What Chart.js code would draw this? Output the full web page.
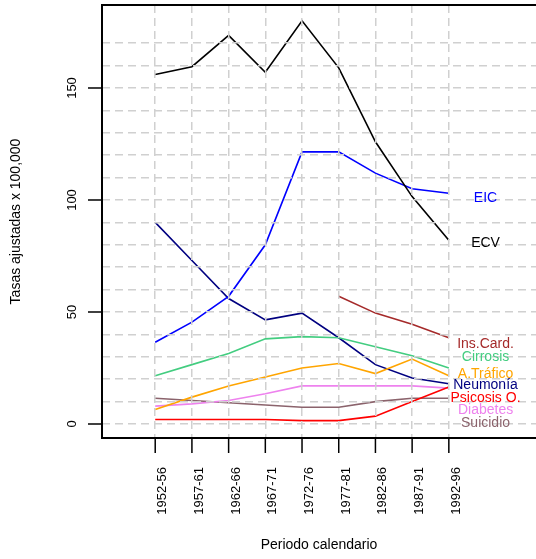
<!DOCTYPE html>
<html>
<head>
<meta charset="utf-8">
<script src="https://cdn.jsdelivr.net/npm/chart.js@4"></script>
<style>
  html, body { margin: 0; padding: 0; background: #fff; }
  #wrap { width: 536px; height: 559px; position: relative; }
</style>
</head>
<body>
<div id="wrap"><canvas id="chart"></canvas></div>
<script>
const periods = ["1952-56", "1957-61", "1962-66", "1967-71", "1972-76", "1977-81", "1982-86", "1987-91", "1992-96"];
const yTicks = [0, 50, 100, 150];

const ecv = [156, 159.5, 173.5, 157, 180, 159, 126, 101.5, 82];
const eic = [36.5, 45.5, 57, 80, 121.5, 121.5, 112, 105, 103];
const insCard = [null, null, null, null, null, 57, 49.5, 44.5, 38.5];
const cirrosis = [21.5, 26.5, 31.5, 38, 39, 38.5, 34.5, 30.5, 25];
const trafico = [6.5, 12, 17, 21, 25, 27, 22.5, 29, 21.5];
const neumonia = [90, 73, 56, 46.5, 49.5, 38.5, 26.5, 20.5, 18];
const psicosis = [2, 2, 2, 2, 1.5, 1.5, 3.5, 10, 16.5];
const diabetes = [8, 9, 10.5, 13.5, 17, 17, 17, 17, 16];
const suicidio = [11.5, 10.5, 9.5, 8.5, 7.5, 7.5, 10, 11.5, 11.5];

const series = [
  { name: "ECV", data: ecv, color: "#000000" },
  { name: "EIC", data: eic, color: "#0000FF" },
  { name: "Ins.Card.", data: insCard, color: "#A52A2A" },
  { name: "Cirrosis", data: cirrosis, color: "#43CD80" },
  { name: "A.Tráfico", data: trafico, color: "#FFA500" },
  { name: "Neumonía", data: neumonia, color: "#000080" },
  { name: "Psicosis O.", data: psicosis, color: "#FF0000" },
  { name: "Diabetes", data: diabetes, color: "#EE82EE" },
  { name: "Suicidio", data: suicidio, color: "#8B636C" },
];

// where the series names are written (data units)
const labelX = 10;
const labelY = { "EIC": 101, "ECV": 80.7, "Ins.Card.": 35.6, "Cirrosis": 30, "A.Tráfico": 22.2,
  "Neumonía": 17.4, "Psicosis O.": 11.6, "Diabetes": 6, "Suicidio": 0.4 };

const FONT = "13px 'Liberation Sans', Arial, sans-serif";
const BIG = "14px 'Liberation Sans', Arial, sans-serif";

const decor = {
  id: "decor",
  afterDraw(chart) {
    const { ctx, chartArea: a, scales: { x, y } } = chart;
    ctx.save();
    // box (left, top, bottom)
    ctx.strokeStyle = "#000";
    ctx.lineWidth = 2;
    ctx.beginPath();
    ctx.moveTo(chart.width, a.top);
    ctx.lineTo(a.left, a.top);
    ctx.lineTo(a.left, a.bottom);
    ctx.lineTo(chart.width, a.bottom);
    ctx.stroke();

    ctx.lineWidth = 1.5;
    ctx.font = FONT;
    ctx.fillStyle = "#000";
    // y ticks
    yTicks.forEach((v) => {
      const py = y.getPixelForValue(v);
      ctx.beginPath();
      ctx.moveTo(a.left - 14, py);
      ctx.lineTo(a.left, py);
      ctx.stroke();
      ctx.save();
      ctx.translate(76, py);
      ctx.rotate(-Math.PI / 2);
      ctx.textAlign = "center";
      ctx.textBaseline = "alphabetic";
      ctx.fillText(String(v), 0, 0);
      ctx.restore();
    });
    // x ticks
    periods.forEach((p, i) => {
      const px = x.getPixelForValue(i + 1);
      ctx.beginPath();
      ctx.moveTo(px, a.bottom);
      ctx.lineTo(px, a.bottom + 15);
      ctx.stroke();
      ctx.save();
      ctx.translate(px + 11, a.bottom + 29);
      ctx.rotate(-Math.PI / 2);
      ctx.textAlign = "right";
      ctx.textBaseline = "alphabetic";
      ctx.fillText(p, 0, 0);
      ctx.restore();
    });
    // axis titles
    ctx.font = BIG;
    ctx.textAlign = "center";
    ctx.textBaseline = "alphabetic";
    ctx.fillText("Periodo calendario", (a.left + chart.width) / 2, 549);
    ctx.save();
    ctx.translate(20, (a.top + a.bottom) / 2);
    ctx.rotate(-Math.PI / 2);
    ctx.fillText("Tasas ajustadas x 100,000", 0, 0);
    ctx.restore();

    // series names
    ctx.textBaseline = "middle";
    series.forEach((s) => {
      ctx.fillStyle = s.color;
      ctx.fillText(s.name, x.getPixelForValue(labelX), y.getPixelForValue(labelY[s.name]));
    });
    ctx.restore();
  },
};

new Chart(document.getElementById("chart"), {
  type: "line",
  data: {
    datasets: series.map((s) => ({
      label: s.name,
      data: s.data.map((v, i) => ({ x: i + 1, y: v })),
      borderColor: s.color,
      borderWidth: 1.6,
      pointRadius: 0,
      tension: 0,
      fill: false,
      spanGaps: false,
    })),
  },
  options: {
    responsive: true,
    maintainAspectRatio: false,
    animation: false,
    layout: { padding: { top: 5, left: 0, right: 0, bottom: 0 } },
    plugins: { legend: { display: false }, tooltip: { enabled: false } },
    scales: {
      x: {
        type: "linear",
        min: -0.45,
        max: 11.375,
        afterBuildTicks: (s) => { s.ticks = periods.map((p, i) => ({ value: i + 1 })); },
        afterFit: (s) => { s.height = 121; },
        ticks: { display: false },
        grid: { color: "#d0d0d0", lineWidth: 1.5, drawTicks: false, z: 1 },
        border: { display: false, dash: [8, 5] },
      },
      y: {
        min: -6.25,
        max: 187.05,
        afterBuildTicks: (s) => {
          const t = [];
          for (let v = 0; v <= 170; v += 10) t.push({ value: v });
          s.ticks = t;
        },
        afterFit: (s) => { s.width = 102; },
        ticks: { display: false },
        grid: { color: "#d0d0d0", lineWidth: 1.5, drawTicks: false, z: 1 },
        border: { display: false, dash: [8, 5] },
      },
    },
  },
  plugins: [decor],
});
</script>
</body>
</html>
